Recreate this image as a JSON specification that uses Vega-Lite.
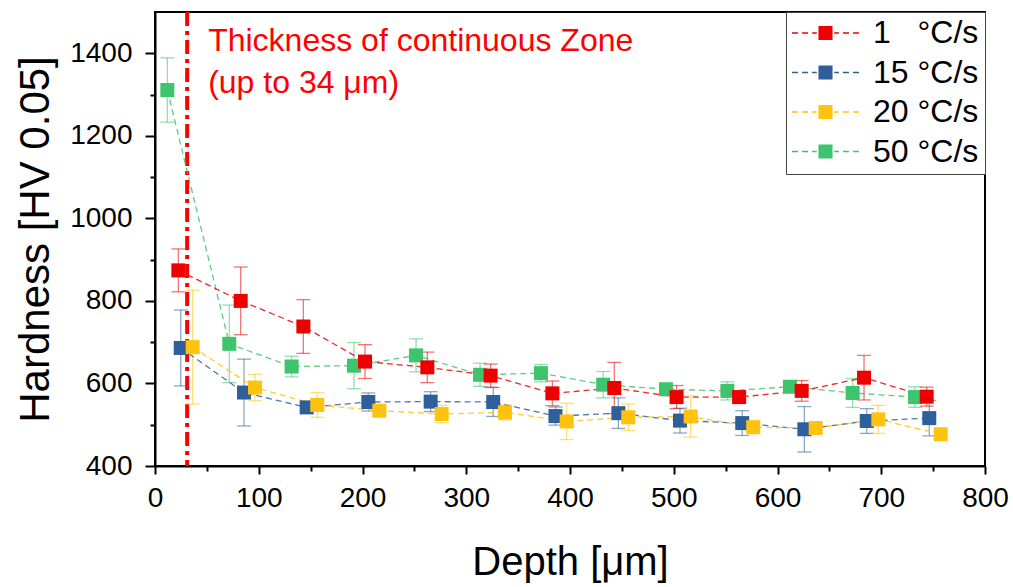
{
  "$schema": "https://vega.github.io/schema/vega-lite/v6.json",
  "width": 830,
  "height": 454,
  "autosize": "none",
  "padding": {"left": 155, "top": 12, "right": 28, "bottom": 121},
  "background": "white",
  "config": {
    "font": "Liberation Sans",
    "view": {"stroke": "black", "strokeWidth": 2},
    "axis": {"domainColor": "black", "domainWidth": 2, "tickColor": "black", "tickWidth": 2, "labelColor": "black", "titleColor": "black", "labelFont": "Liberation Sans", "titleFont": "Liberation Sans", "titleFontWeight": "normal", "grid": false}
  },
  "datasets": {
    "hv": [
      {"rate": "50", "depth": 11.9, "hv": 1311, "err": 78},
      {"rate": "50", "depth": 71.6, "hv": 696, "err": 94},
      {"rate": "50", "depth": 131.7, "hv": 641, "err": 25},
      {"rate": "50", "depth": 191.8, "hv": 643, "err": 56},
      {"rate": "50", "depth": 251.6, "hv": 668, "err": 40},
      {"rate": "50", "depth": 313.3, "hv": 621, "err": 28},
      {"rate": "50", "depth": 372, "hv": 625, "err": 21},
      {"rate": "50", "depth": 432, "hv": 597, "err": 32},
      {"rate": "50", "depth": 492.5, "hv": 586, "err": 10},
      {"rate": "50", "depth": 551.7, "hv": 582, "err": 22},
      {"rate": "50", "depth": 612, "hv": 592, "err": 8},
      {"rate": "50", "depth": 672.4, "hv": 577, "err": 35},
      {"rate": "50", "depth": 732.5, "hv": 567, "err": 25},
      {"rate": "1", "depth": 22.5, "hv": 874, "err": 52},
      {"rate": "1", "depth": 82.6, "hv": 800, "err": 82},
      {"rate": "1", "depth": 143, "hv": 738, "err": 65},
      {"rate": "1", "depth": 202.4, "hv": 653, "err": 41},
      {"rate": "1", "depth": 262.5, "hv": 639, "err": 37},
      {"rate": "1", "depth": 323.5, "hv": 619, "err": 28},
      {"rate": "1", "depth": 383, "hv": 576, "err": 30},
      {"rate": "1", "depth": 442.7, "hv": 589, "err": 62},
      {"rate": "1", "depth": 502.7, "hv": 567, "err": 28},
      {"rate": "1", "depth": 563, "hv": 567, "err": 12},
      {"rate": "1", "depth": 623.3, "hv": 582, "err": 25},
      {"rate": "1", "depth": 683.4, "hv": 614, "err": 54},
      {"rate": "1", "depth": 743.8, "hv": 568, "err": 23},
      {"rate": "15", "depth": 24.8, "hv": 686, "err": 92},
      {"rate": "15", "depth": 85.8, "hv": 578, "err": 81},
      {"rate": "15", "depth": 146.2, "hv": 542, "err": 8},
      {"rate": "15", "depth": 205.6, "hv": 555, "err": 22},
      {"rate": "15", "depth": 265.7, "hv": 556, "err": 24},
      {"rate": "15", "depth": 326, "hv": 555, "err": 35},
      {"rate": "15", "depth": 386, "hv": 521, "err": 22},
      {"rate": "15", "depth": 446.6, "hv": 528, "err": 37},
      {"rate": "15", "depth": 506, "hv": 510, "err": 30},
      {"rate": "15", "depth": 566, "hv": 504, "err": 30},
      {"rate": "15", "depth": 625.9, "hv": 489, "err": 55},
      {"rate": "15", "depth": 686, "hv": 509, "err": 30},
      {"rate": "15", "depth": 746.3, "hv": 516, "err": 43},
      {"rate": "20", "depth": 36.3, "hv": 688, "err": 138},
      {"rate": "20", "depth": 96.4, "hv": 590, "err": 32},
      {"rate": "20", "depth": 156.4, "hv": 548, "err": 30},
      {"rate": "20", "depth": 216.2, "hv": 534, "err": 10},
      {"rate": "20", "depth": 276.3, "hv": 526, "err": 21},
      {"rate": "20", "depth": 337.3, "hv": 530, "err": 18},
      {"rate": "20", "depth": 396.8, "hv": 508, "err": 44},
      {"rate": "20", "depth": 456.2, "hv": 518, "err": 32},
      {"rate": "20", "depth": 516.3, "hv": 520, "err": 50},
      {"rate": "20", "depth": 576.6, "hv": 494, "err": 15},
      {"rate": "20", "depth": 636.8, "hv": 492, "err": 10},
      {"rate": "20", "depth": 697.2, "hv": 513, "err": 34},
      {"rate": "20", "depth": 757.3, "hv": 477, "err": 5}
    ],
    "zone": [{"depth": 31}]
  },
  "resolve": {"axis": {"x": "independent", "y": "independent"}},
  "layer": [
    {
      "data": {"name": "zone"},
      "mark": {"type": "rule", "color": "#FF0000", "strokeWidth": 4, "strokeDash": [14, 5, 4, 5]},
      "encoding": {
        "x": {"field": "depth", "type": "quantitative", "scale": {"domain": [0, 800], "nice": false, "zero": false}, "axis": null}
      }
    },
    {
      "data": {"name": "zone"},
      "mark": {"type": "text", "align": "left", "baseline": "alphabetic", "fontSize": 32, "color": "#FF0000", "dx": 21, "lineHeight": 42, "text": ["Thickness of continuous Zone", "(up to 34 μm)"]},
      "encoding": {
        "x": {"field": "depth", "type": "quantitative", "axis": null},
        "y": {"datum": 1405, "type": "quantitative", "scale": {"domain": [400, 1500], "nice": false, "zero": false}, "axis": null}
      }
    },
    {
      "data": {"name": "hv"},
      "mark": {"type": "errorbar", "ticks": {"size": 14}, "thickness": 1.3, "opacity": 0.55},
      "encoding": {
        "x": {"field": "depth", "type": "quantitative", "axis": null},
        "y": {"field": "hv", "type": "quantitative", "axis": null, "title": null},
        "yError": {"field": "err"},
        "color": {"field": "rate", "type": "nominal"}
      }
    },
    {
      "data": {"name": "hv"},
      "mark": {"type": "line", "strokeDash": [6, 4], "strokeWidth": 1.3, "opacity": 0.85},
      "encoding": {
        "x": {"field": "depth", "type": "quantitative", "axis": {"orient": "bottom", "values": [50, 150, 250, 350, 450, 550, 650, 750], "tickSize": 5, "labels": false, "domain": false, "title": null}},
        "y": {"field": "hv", "type": "quantitative", "axis": {"orient": "left", "values": [500, 700, 900, 1100, 1300], "tickSize": 5, "labels": false, "domain": false, "title": null}},
        "color": {"field": "rate", "type": "nominal"}
      }
    },
    {
      "data": {"name": "hv"},
      "mark": {"type": "point", "shape": "square", "filled": true, "size": 196, "opacity": 1},
      "encoding": {
        "x": {"field": "depth", "type": "quantitative", "axis": {"orient": "bottom", "values": [0, 100, 200, 300, 400, 500, 600, 700, 800], "tickSize": 8, "labelFontSize": 28, "labelPadding": 10, "labelFlush": false, "labelOverlap": false, "title": "Depth [μm]", "titleFontSize": 40, "titlePadding": 30}},
        "y": {"field": "hv", "type": "quantitative", "axis": {"orient": "left", "format": "d", "values": [400, 600, 800, 1000, 1200, 1400], "tickSize": 10, "labelFontSize": 28, "labelPadding": 13, "labelFlush": false, "labelOverlap": false, "title": "Hardness [HV 0.05]", "titleFontSize": 42, "titlePadding": 12}},
        "color": {
          "field": "rate", "type": "nominal",
          "scale": {"domain": ["1", "15", "20", "50"], "range": ["#EE0000", "#2F5F9B", "#FFC20E", "#3DC46D"]},
          "legend": {
            "title": null, "orient": "top-right", "offset": 0,
            "symbolType": "M-1,-0.02H-0.82V0.02H-1Z M-0.7,-0.02H-0.52V0.02H-0.7Z M-0.4,-0.02H-0.26V0.02H-0.4Z M-0.21,-0.21H0.21V0.21H-0.21Z M0.26,-0.02H0.4V0.02H0.26Z M0.52,-0.02H0.7V0.02H0.52Z M0.82,-0.02H1V0.02H0.82Z",
            "symbolSize": 4489, "symbolStrokeWidth": 0, "symbolOpacity": 1,
            "labelFontSize": 32, "labelOffset": 14, "labelColor": "black", "labelFont": "Liberation Sans",
            "strokeColor": "#444444", "fillColor": "white", "padding": 6, "rowPadding": 7.5, "clipHeight": 30,
            "labelExpr": "datum.label == '1' ? '1\u00a0\u00a0\u00a0°C/s' : datum.label + ' °C/s'",
            "encode": {"symbols": {"update": {"opacity": {"value": 1}, "fillOpacity": {"value": 1}}}}
          }
        }
      }
    }
  ]
}
